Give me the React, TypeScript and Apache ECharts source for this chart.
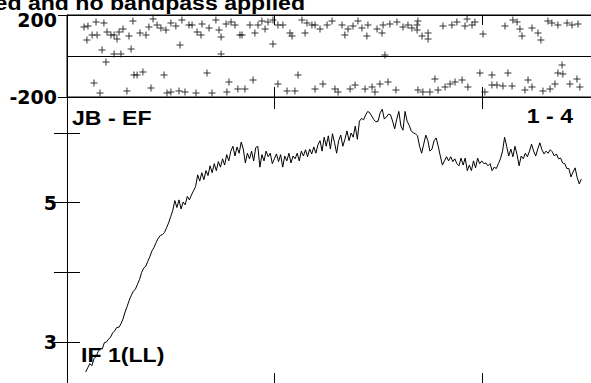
import React, { useEffect, useRef } from "react";
import * as echarts from "echarts";

const titleText = "ed and no bandpass applied";
const baselineLabel = "JB - EF";
const stokesLabel = "1 - 4";
const ifLabel = "IF 1(LL)";

const channelTicks = [100, 200];
const phaseTicks = [-200, 200];
const ampTicks = [3, 4, 5, 6];
const ampLabels = [3, 5];

const firstChannel = 9;
const amplitudes = [
  2.57, 2.63, 2.69, 2.66, 2.76, 2.79, 2.86, 2.91, 2.9, 2.99,
  3.0, 3.04, 3.07, 3.13, 3.16, 3.21, 3.21, 3.26, 3.33, 3.43,
  3.51, 3.6, 3.67, 3.73, 3.76, 3.83, 3.9, 4.0, 4.06, 4.09,
  4.16, 4.23, 4.31, 4.36, 4.43, 4.49, 4.53, 4.54, 4.57, 4.64,
  4.71, 4.8, 4.89, 5.03, 4.93, 5.04, 4.91, 5.01, 4.97, 5.09,
  5.04, 5.11, 5.17, 5.23, 5.4, 5.31, 5.43, 5.33, 5.46, 5.39,
  5.53, 5.43, 5.56, 5.46, 5.59, 5.51, 5.63, 5.54, 5.69, 5.6,
  5.74, 5.81, 5.67, 5.8, 5.71, 5.87, 5.77, 5.57, 5.71, 5.63,
  5.74, 5.6, 5.79, 5.81, 5.51, 5.69, 5.6, 5.74, 5.66, 5.71,
  5.56, 5.63, 5.7, 5.59, 5.69, 5.51, 5.67, 5.6, 5.71, 5.57,
  5.67, 5.63, 5.71, 5.6, 5.74, 5.67, 5.76, 5.66, 5.77, 5.7,
  5.8, 5.71, 5.83, 5.89, 5.74, 5.94, 5.81, 5.96, 5.77, 5.99,
  5.86, 5.71, 5.89, 5.97, 5.81, 5.91, 6.03, 5.89, 6.0, 5.94,
  6.1, 5.91, 6.17, 6.21, 6.19, 6.26, 6.31, 6.29, 6.24, 6.19,
  6.16, 6.17, 6.29, 6.34, 6.2, 6.23, 6.27, 6.26, 6.17, 6.06,
  6.2, 6.31, 6.1, 6.04, 6.31, 6.17, 6.11, 6.03, 6.0, 5.99,
  5.96, 5.81, 5.71, 5.84, 5.97, 5.89, 5.74, 5.77, 5.89, 5.93,
  5.81, 5.67, 5.54, 5.6, 5.66, 5.6, 5.66, 5.59, 5.63, 5.56,
  5.53, 5.64, 5.54, 5.64, 5.46, 5.54, 5.46, 5.6, 5.5, 5.64,
  5.56, 5.6, 5.56, 5.57, 5.53, 5.56, 5.46, 5.51, 5.49, 5.56,
  5.63, 5.74, 5.94, 5.81, 5.67, 5.77, 5.66, 5.81, 5.69, 5.53,
  5.67, 5.63, 5.71, 5.66, 5.74, 5.84, 5.74, 5.67, 5.77, 5.86,
  5.76, 5.7, 5.74, 5.71, 5.76, 5.73, 5.67, 5.7, 5.63, 5.64,
  5.57, 5.56, 5.49, 5.49, 5.37, 5.44, 5.5, 5.36, 5.27, 5.34,
];

// [channel, phase in degrees]
const phasePoints: [number, number][] = [
  [8.2, 141], [10.1, 146], [14.0, 166], [17.8, 161], [9.6, 78], [12.1, 102], [14.5, 102],
  [19.3, 117], [21.2, 102], [22.7, 102], [24.1, 83], [25.1, 117], [27.0, 132], [29.9, 98],
  [31.8, 171], [35.2, 112], [38.1, 102], [39.5, 141], [41.5, 180], [43.4, 151], [45.3, 137],
  [47.7, 127], [50.1, 161], [52.5, 146], [55.4, 176], [58.8, 151], [60.3, 151], [62.7, 117],
  [64.6, 102], [65.1, 156], [68.5, 137], [71.8, 176], [73.3, 127], [74.3, 93], [76.7, 156],
  [79.1, 166], [81.0, 151], [83.4, 102], [54.5, 54], [16.9, 29], [22.7, 10], [26.0, 10],
  [30.9, 34], [74.3, 10], [18.8, -29], [32.3, -93], [33.8, -93], [36.6, -78], [46.8, -93],
  [67.5, -83], [13.0, -132], [15.9, -180], [28.9, -171], [40.5, -156], [48.2, -180],
  [50.1, -176], [54.0, -171], [56.9, -176], [62.2, -180], [69.9, -180], [77.1, -176],
  [78.1, -127], [82.4, -161],
  [84.4, 102], [88.2, 151], [90.6, 112], [92.1, 151], [94.0, 171], [95.5, 132], [96.9, 166],
  [99.3, 176], [101.7, 151], [104.1, 151], [107.5, 112], [108.5, 98], [99.3, 59], [113.3, 176],
  [114.8, 112], [115.7, 161], [118.1, 151], [119.6, 151], [122.0, 132], [125.4, 151],
  [127.8, 171], [132.6, 151], [134.0, 102], [135.5, 132], [137.9, 146], [140.3, 171],
  [142.2, 137], [145.1, 151], [144.6, 98], [149.5, 132], [151.9, 112], [152.4, 151],
  [155.7, 156], [159.1, 166], [162.0, 141], [164.4, 151], [166.3, 137], [168.8, 151], [153.3, 5],
  [85.8, -161], [89.7, -117], [101.7, -137], [106.1, -171], [109.9, -171], [111.4, -93],
  [119.6, -161], [123.4, -137], [129.2, -161], [130.7, -176], [136.5, -161], [138.9, -141],
  [143.7, -161], [147.1, -151], [148.5, -176], [150.9, -137], [154.8, -127], [158.6, -166],
  [169.2, -166],
  [169.2, 171], [168.8, 127], [171.2, 98], [174.1, 112], [174.1, 83], [181.3, 146], [185.6, 151],
  [188.0, 166], [191.9, 146], [192.9, 180], [195.3, 151], [196.7, 166], [200.6, 107],
  [211.2, 146], [215.0, 176], [217.0, 166], [218.4, 132], [219.4, 98], [224.2, 137],
  [227.1, 112], [228.5, 78], [231.9, 171], [233.8, 161], [236.7, 151], [241.1, 161],
  [243.5, 151], [246.4, 156],
  [177.4, -112], [171.6, -176], [175.0, -176], [178.9, -166], [182.3, -151], [184.7, -137],
  [187.1, -127], [190.5, -117], [193.3, -151], [199.1, -83], [204.9, -93], [212.6, -83],
  [201.5, -176], [204.9, -141], [207.3, -141], [210.2, -146], [214.6, -146], [220.8, -166],
  [222.3, -117], [224.2, -151], [229.5, -171], [232.9, -161], [235.3, -137], [238.7, -44],
  [236.7, -83], [239.1, -88], [242.5, -137], [245.9, -112], [247.3, -151],
];

const FONT = '"Liberation Sans", Arial, Helvetica, sans-serif';
const LABEL_FONT = '"DejaVu Sans", sans-serif';
const BLACK = "#000";
const PLUS = "path://M3,0H4V3H7V4H4V7H3V4H0V3H3Z";

function xAxisDef(gridIndex: number, position: string, tickLen: number) {
  return {
    type: "value",
    gridIndex,
    position,
    min: 0,
    max: 257,
    axisLine: { show: true, onZero: false, lineStyle: { color: BLACK, width: 1 } },
    axisTick: {
      show: true,
      inside: true,
      length: tickLen,
      customValues: channelTicks,
      lineStyle: { color: BLACK, width: 1 },
    },
    axisLabel: { show: false },
    splitLine: { show: false },
  };
}

export default function App() {
  const ref = useRef<HTMLDivElement>(null);
  useEffect(() => {
    if (!ref.current) return;
    const chart = echarts.init(ref.current, undefined, { renderer: "svg" });
    const lineData = amplitudes.map((v, i) => [firstChannel + i, v]);
    const labelFont = { fontFamily: LABEL_FONT, fontWeight: "bold", fontSize: 19, color: BLACK };
    chart.setOption({
      animation: false,
      backgroundColor: "#fff",
      grid: [
        {
          left: 67, top: 15, width: 533, height: 82, show: true, borderColor: BLACK, borderWidth: 1,
          containLabel: false, outerBoundsMode: "none",
        },
        { left: 67, top: 97, width: 533, height: 288, containLabel: false, outerBoundsMode: "none" },
      ],
      xAxis: [
        xAxisDef(0, "bottom", 10),
        xAxisDef(0, "top", 10),
        xAxisDef(1, "top", 12),
        xAxisDef(1, "bottom", 12),
      ],
      yAxis: [
        {
          type: "value",
          gridIndex: 0,
          position: "left",
          min: -200,
          max: 200,
          axisLine: { show: true, lineStyle: { color: BLACK, width: 1 } },
          axisTick: { show: true, inside: true, length: 9, customValues: phaseTicks, lineStyle: { color: BLACK } },
          axisLabel: {
            show: true,
            customValues: phaseTicks,
            margin: 10,
            ...labelFont,
            formatter: (v: number) => (v === 200 ? "{hi|200}" : "{lo|" + v + "}"),
            rich: {
              hi: { ...labelFont, padding: [10, 0, 0, 0] },
              lo: { ...labelFont },
            },
          },
          splitLine: { show: false },
        },
        {
          type: "value",
          gridIndex: 0,
          position: "right",
          min: -200,
          max: 200,
          axisLine: { show: true, lineStyle: { color: BLACK, width: 1 } },
          axisTick: { show: true, inside: true, length: 9, customValues: phaseTicks, lineStyle: { color: BLACK } },
          axisLabel: { show: false },
          splitLine: { show: false },
        },
        {
          type: "value",
          gridIndex: 1,
          position: "left",
          min: 2.383,
          max: 6.517,
          axisLine: { show: true, lineStyle: { color: BLACK, width: 1 } },
          axisTick: { show: true, inside: true, length: 13, customValues: ampTicks, lineStyle: { color: BLACK } },
          axisLabel: { show: true, customValues: ampLabels, margin: 10, ...labelFont },
          splitLine: { show: false },
        },
        {
          type: "value",
          gridIndex: 1,
          position: "right",
          min: 2.383,
          max: 6.517,
          axisLine: { show: true, lineStyle: { color: BLACK, width: 1 } },
          axisTick: { show: true, inside: true, length: 13, customValues: ampTicks, lineStyle: { color: BLACK } },
          axisLabel: { show: false },
          splitLine: { show: false },
        },
      ],
      series: [
        {
          type: "scatter",
          xAxisIndex: 0,
          yAxisIndex: 0,
          data: phasePoints,
          symbol: PLUS,
          symbolSize: 7,
          itemStyle: { color: BLACK },
          markLine: {
            silent: true,
            symbol: ["none", "none"],
            label: { show: false },
            lineStyle: { color: BLACK, type: "solid", width: 1 },
            data: [{ yAxis: 0 }],
          },
        },
        {
          type: "line",
          xAxisIndex: 2,
          yAxisIndex: 2,
          data: lineData,
          showSymbol: false,
          symbol: "none",
          lineStyle: { color: BLACK, width: 1 },
        },
      ],
      graphic: [
        {
          type: "text",
          x: 305,
          y: 3,
          scaleX: 1.1,
          style: { text: titleText, fill: BLACK, font: `bold 21px ${FONT}`, align: "right", verticalAlign: "middle" },
        },
        {
          type: "text",
          x: 72,
          y: 118,
          scaleX: 1.1,
          style: { text: baselineLabel, fill: BLACK, font: `bold 21px ${FONT}`, align: "left", verticalAlign: "middle" },
        },
        {
          type: "text",
          x: 573,
          y: 116,
          scaleX: 1.1,
          style: { text: stokesLabel, fill: BLACK, font: `bold 21px ${FONT}`, align: "right", verticalAlign: "middle" },
        },
        {
          type: "text",
          x: 81,
          y: 355,
          scaleX: 1.1,
          style: { text: ifLabel, fill: BLACK, font: `bold 21px ${FONT}`, align: "left", verticalAlign: "middle" },
        },
      ],
    });
    return () => chart.dispose();
  }, []);
  return (
    <div
      ref={ref}
      style={{ position: "fixed", left: 0, top: 0, width: 591, height: 383, background: "#fff" }}
    />
  );
}
